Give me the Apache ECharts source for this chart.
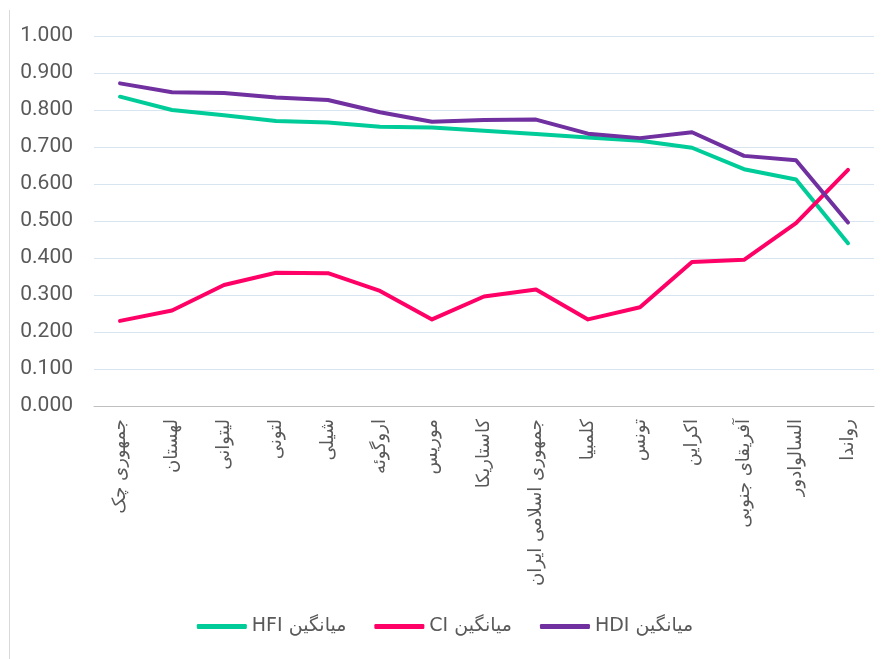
<!DOCTYPE html>
<html>
<head>
<meta charset="utf-8">
<script src="https://cdn.jsdelivr.net/npm/echarts@6/dist/echarts.min.js"></script>
<style>
html,body{margin:0;padding:0;background:#fff;}
#chart{width:890px;height:659px;}
</style>
</head>
<body>
<div id="chart"></div>
<script>
const categories = ['جمهوری چک','لهستان','لیتوانی','لتونی','شیلی','اروگوئه','موریس','کاستاریکا','جمهوری اسلامی ایران','کلمبیا','تونس','اکراین','آفریقای جنوبی','السالوادور','رواندا'];
const hfiValues = [0.836,0.800,0.786,0.770,0.766,0.755,0.753,0.744,0.735,0.726,0.717,0.698,0.640,0.612,0.440];
const ciValues  = [0.230,0.258,0.327,0.360,0.359,0.311,0.234,0.296,0.315,0.234,0.267,0.389,0.395,0.494,0.638];
const hdiValues = [0.872,0.848,0.846,0.834,0.827,0.794,0.768,0.773,0.774,0.736,0.724,0.740,0.676,0.664,0.496];
const seriesNames = ['HFI میانگین','CI میانگین','HDI میانگین'];
const yTicks = {min:0, max:1, interval:0.1};

const chart = echarts.init(document.getElementById('chart'), null, {renderer:'canvas'});
function mk(name, data, color){
  return {
    name, type:'line', data, symbol:'none', smooth:false,
    lineStyle:{color, width:4, cap:'round', join:'round'},
    itemStyle:{color}
  };
}
chart.setOption({
  animation:false,
  backgroundColor:'#fff',
  grid:{left:94, right:16, top:36, bottom:253, containLabel:false},
  legend:{
    bottom:18, left:'center', icon:'roundRect', itemWidth:50, itemHeight:5, itemGap:28,
    textStyle:{color:'#595959', fontSize:19, fontFamily:'DejaVu Sans'},
    data:seriesNames
  },
  xAxis:{
    type:'category', data:categories, boundaryGap:true,
    axisLine:{show:true, lineStyle:{color:'#BFBFBF', width:1}},
    axisTick:{show:false},
    axisLabel:{rotate:90, interval:0, margin:13, color:'#595959', fontSize:18, fontFamily:'DejaVu Sans'}
  },
  yAxis:{
    type:'value', min:yTicks.min, max:yTicks.max, interval:yTicks.interval,
    axisLine:{show:false}, axisTick:{show:false},
    splitLine:{lineStyle:{color:'#D9E4F1', width:1}},
    axisLabel:{margin:21, color:'#595959', fontSize:21, fontFamily:'Roboto', formatter:v=>v.toFixed(3)}
  },
  graphic:[{type:'line', shape:{x1:9.5,y1:10,x2:9.5,y2:659}, style:{stroke:'#D9D9D9', lineWidth:1}}],
  series:[
    mk(seriesNames[0], hfiValues, '#00CC99'),
    mk(seriesNames[1], ciValues, '#FF0066'),
    mk(seriesNames[2], hdiValues, '#7030A0')
  ]
});
</script>
</body>
</html>
